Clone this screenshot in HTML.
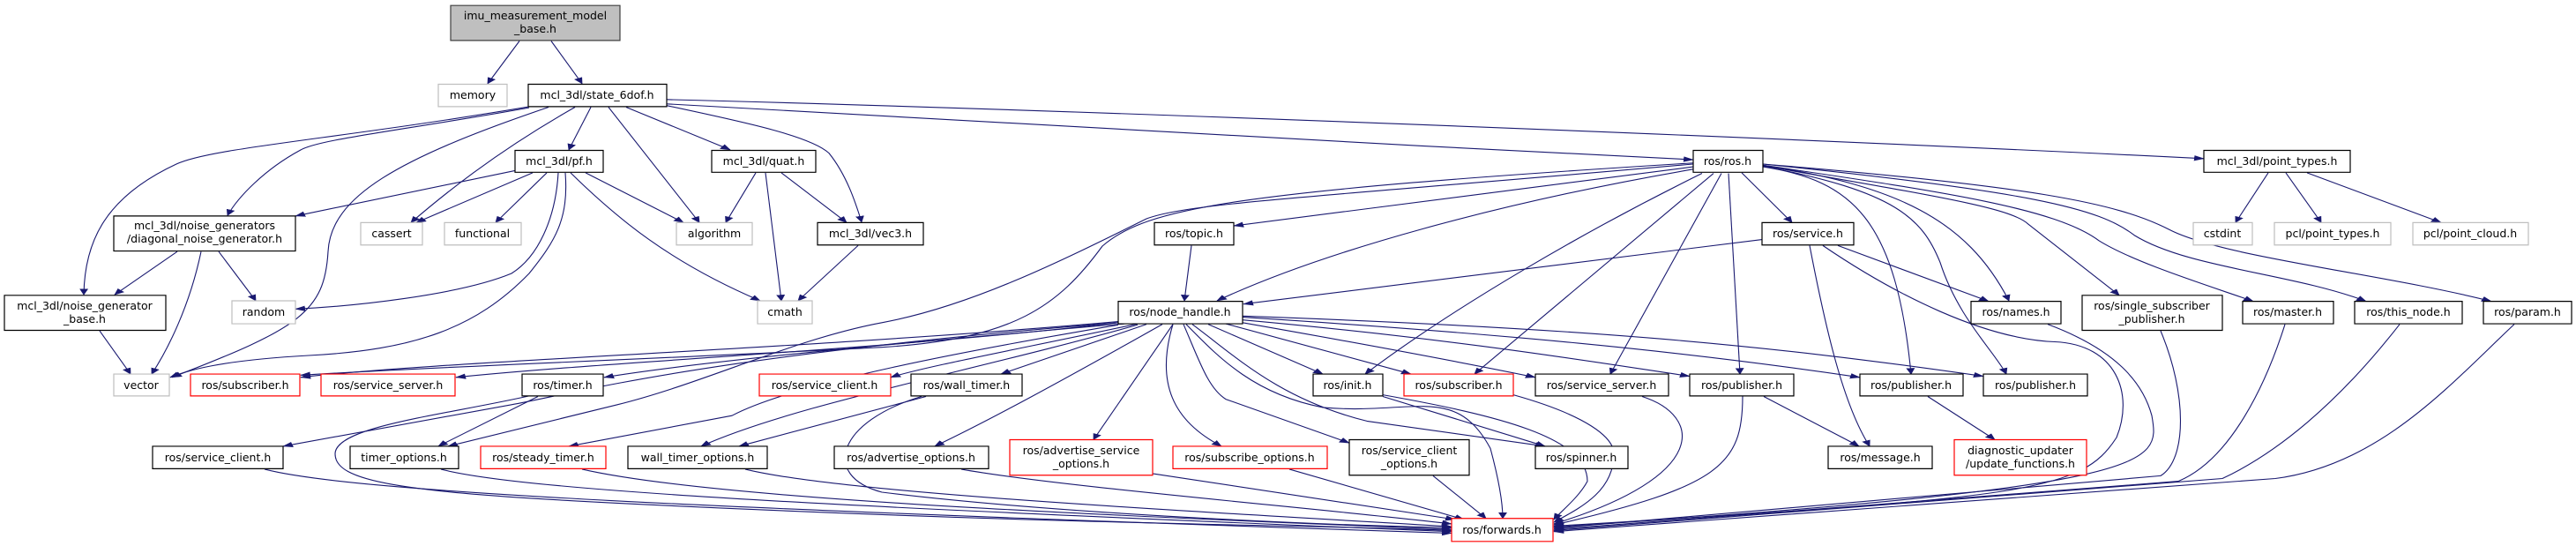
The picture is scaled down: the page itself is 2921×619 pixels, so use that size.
<!DOCTYPE html>
<html><head><meta charset="utf-8"><style>
html,body{margin:0;padding:0;background:#fff;overflow:hidden;}
svg{display:block;}
text{font-family:"DejaVu Sans","Liberation Sans",sans-serif;font-size:12.5px;fill:#000;text-anchor:middle;}
.e{fill:none;stroke:#191970;stroke-width:1.1;marker-end:url(#a);vector-effect:non-scaling-stroke;}
.n{fill:#fff;stroke:#000;stroke-width:1.2;vector-effect:non-scaling-stroke;}
.g{fill:#fff;stroke:#bfbfbf;stroke-width:1.2;vector-effect:non-scaling-stroke;}
.r{fill:#fff;stroke:#ff0000;stroke-width:1.2;vector-effect:non-scaling-stroke;}
</style></head><body>
<svg width="2921" height="619" viewBox="0 0 2921 619" xmlns="http://www.w3.org/2000/svg">
<defs><marker id="a" markerUnits="userSpaceOnUse" markerWidth="12" markerHeight="14" refX="11" refY="7" orient="auto"><path d="M0,2 L12,7 L0,12 z" fill="#191970"/></marker></defs>
<g transform="scale(1,0.62)">
<path class="e" d="M589,75 L553,153"/>
<path class="e" d="M625,75 L660,153"/>
<path class="e" d="M600,195 C380,255 240,270 200,300 C120,360 96,440 95,539"/>
<path class="e" d="M600,197 C450,240 360,255 340,275 C300,310 270,360 258,394"/>
<path class="e" d="M622,196 C450,290 375,360 372,460 C368,570 340,600 195,690"/>
<path class="e" d="M652,196 C560,280 500,360 466,407"/>
<path class="e" d="M670,196 L645,274"/>
<path class="e" d="M690,196 L793,407"/>
<path class="e" d="M710,196 L828,274"/>
<path class="e" d="M756,193 C850,225 920,250 940,280 C960,320 970,370 977,406"/>
<path class="e" d="M756,190 C1000,210 1500,260 1920,292"/>
<path class="e" d="M756,182 C1200,200 2000,250 2499,290"/>
<path class="e" d="M584,312 L335,395"/>
<path class="e" d="M604,316 L472,407"/>
<path class="e" d="M620,316 L562,407"/>
<path class="e" d="M664,316 L775,407"/>
<path class="e" d="M647,316 C700,400 760,480 862,550"/>
<path class="e" d="M633,316 C630,400 610,470 580,500 C520,540 400,560 335,565"/>
<path class="e" d="M641,316 C645,400 630,440 600,500 C540,600 470,640 350,650 C240,660 210,680 193,690"/>
<path class="e" d="M857,316 L823,407"/>
<path class="e" d="M868,316 L886,550"/>
<path class="e" d="M886,316 L960,407"/>
<path class="e" d="M973,449 L905,550"/>
<path class="e" d="M201,460 L130,539"/>
<path class="e" d="M248,460 L290,550"/>
<path class="e" d="M228,460 C215,560 190,640 172,684"/>
<path class="e" d="M113,605 L148,684"/>
<path class="e" d="M1920,305 L1399,413"/>
<path class="e" d="M1925,308 C1700,370 1500,460 1380,550"/>
<path class="e" d="M1975,316 L2032,407"/>
<path class="e" d="M1999,302 C2150,340 2230,400 2278,550"/>
<path class="e" d="M1999,303 C2200,360 2280,380 2300,410 L2403,540"/>
<path class="e" d="M1999,302 C2200,350 2330,380 2380,440 C2420,480 2500,520 2555,551"/>
<path class="e" d="M1999,300 C2300,350 2380,380 2420,430 C2480,490 2600,500 2683,551"/>
<path class="e" d="M1999,300 C2300,340 2400,370 2460,420 C2520,470 2700,500 2825,551"/>
<path class="e" d="M1930,317 C1800,420 1650,560 1548,684"/>
<path class="e" d="M1943,317 L1672,684"/>
<path class="e" d="M1952,317 L1826,684"/>
<path class="e" d="M1960,317 L1973,684"/>
<path class="e" d="M1999,305 C2100,330 2150,400 2167,684"/>
<path class="e" d="M1999,304 C2150,350 2180,400 2200,480 C2220,580 2260,640 2275,684"/>
<path class="e" d="M1920,298 C1400,350 1300,380 1250,450 C1200,560 1150,620 1000,635 C700,660 500,670 341,686"/>
<path class="e" d="M1920,300 C1500,360 1350,370 1300,400 C1200,480 1100,560 1000,590 C900,620 800,700 700,740 L508,816"/>
<path class="e" d="M1268,588 C900,640 500,660 341,690"/>
<path class="e" d="M1268,590 C1000,640 700,660 517,690"/>
<path class="e" d="M1275,592 C1000,630 800,660 685,690"/>
<path class="e" d="M1290,592 C1150,640 1050,670 1010,690"/>
<path class="e" d="M1300,593 L1135,684"/>
<path class="e" d="M1370,593 L1500,684"/>
<path class="e" d="M1390,592 L1600,684"/>
<path class="e" d="M1409,590 C1550,630 1650,660 1741,690"/>
<path class="e" d="M1409,585 C1650,620 1800,660 1916,688"/>
<path class="e" d="M1409,580 C1700,610 1900,640 2109,690"/>
<path class="e" d="M1409,578 C1800,600 2000,630 2249,688"/>
<path class="e" d="M1318,593 C1200,700 1120,770 1060,816"/>
<path class="e" d="M1330,593 L1240,804"/>
<path class="e" d="M1330,593 C1310,700 1330,770 1385,816"/>
<path class="e" d="M1342,593 C1360,660 1370,710 1390,730 L1530,810"/>
<path class="e" d="M1352,593 C1400,650 1450,730 1550,770 L1752,816"/>
<path class="e" d="M1345,593 C1380,650 1420,720 1500,745 C1600,760 1650,700 1690,820 C1700,880 1704,920 1704,948"/>
<path class="e" d="M1268,594 C1100,640 900,700 830,760 L645,816"/>
<path class="e" d="M1290,594 C1100,680 900,740 795,816"/>
<path class="e" d="M1268,590 C800,650 650,720 580,740 L321,816"/>
<path class="e" d="M610,725 L497,816"/>
<path class="e" d="M600,724 C500,760 380,780 380,830 C380,880 450,900 700,920 C1200,960 1500,960 1646,970"/>
<path class="e" d="M1050,725 L838,816"/>
<path class="e" d="M1045,725 C950,770 930,870 1000,900 C1200,940 1500,960 1646,965"/>
<path class="e" d="M300,858 C400,900 800,930 1646,975"/>
<path class="e" d="M500,858 C600,900 1000,930 1646,972"/>
<path class="e" d="M660,858 C800,910 1200,940 1646,968"/>
<path class="e" d="M845,858 C950,900 1300,930 1646,963"/>
<path class="e" d="M1090,858 C1200,890 1500,930 1646,958"/>
<path class="e" d="M1307,866 L1650,950"/>
<path class="e" d="M1462,858 L1660,950"/>
<path class="e" d="M1625,870 L1685,948"/>
<path class="e" d="M1568,722 C1700,760 1800,800 1800,880 C1790,910 1770,935 1762,950"/>
<path class="e" d="M1568,725 L1752,816"/>
<path class="e" d="M1716,722 C1800,760 1830,800 1830,830 C1830,900 1790,930 1762,955"/>
<path class="e" d="M1862,725 C1930,760 1940,870 1762,958"/>
<path class="e" d="M1976,725 C1976,850 1950,890 1762,960"/>
<path class="e" d="M2000,725 L2108,816"/>
<path class="e" d="M2186,725 L2262,804"/>
<path class="e" d="M2052,449 C2070,600 2090,740 2120,816"/>
<path class="e" d="M1998,438 L1410,556"/>
<path class="e" d="M2084,449 L2255,551"/>
<path class="e" d="M2067,449 C2150,540 2250,620 2330,625 C2400,630 2420,720 2400,800 C2360,900 2300,910 1762,962"/>
<path class="e" d="M2322,593 C2400,640 2430,700 2440,760 C2450,850 2450,890 1762,964"/>
<path class="e" d="M2450,605 C2480,720 2480,840 2450,870 L1762,966"/>
<path class="e" d="M2591,593 C2570,700 2530,840 2470,880 L1762,968"/>
<path class="e" d="M2721,593 C2650,740 2580,830 2520,875 L1762,970"/>
<path class="e" d="M2851,593 C2780,700 2700,850 2580,875 L1762,972"/>
<path class="e" d="M1351,449 L1343,550"/>
<path class="e" d="M2572,316 L2535,407"/>
<path class="e" d="M2592,316 L2632,407"/>
<path class="e" d="M2616,316 L2768,407"/>
<rect x="511" y="10" width="192" height="64" fill="#bfbfbf" stroke="#404040" stroke-width="1.2" vector-effect="non-scaling-stroke"/>
<rect class="g" x="497" y="154" width="78" height="41"/>
<rect class="n" x="599" y="154" width="157" height="41"/>
<rect class="n" x="584" y="275" width="100" height="40"/>
<rect class="n" x="807" y="275" width="118" height="40"/>
<rect class="n" x="1920" y="275" width="79" height="40"/>
<rect class="n" x="2499" y="275" width="166" height="40"/>
<rect class="n" x="129" y="395" width="206" height="64"/>
<rect class="g" x="409" y="407" width="70" height="41"/>
<rect class="g" x="504" y="407" width="87" height="41"/>
<rect class="g" x="767" y="407" width="86" height="41"/>
<rect class="n" x="927" y="407" width="120" height="41"/>
<rect class="n" x="1309" y="407" width="90" height="41"/>
<rect class="n" x="1998" y="407" width="104" height="41"/>
<rect class="g" x="2487" y="407" width="67" height="41"/>
<rect class="g" x="2579" y="407" width="132" height="41"/>
<rect class="g" x="2736" y="407" width="131" height="41"/>
<rect class="n" x="5" y="540" width="183" height="64"/>
<rect class="g" x="263" y="550" width="72" height="42"/>
<rect class="g" x="859" y="550" width="62" height="42"/>
<rect class="n" x="1268" y="551" width="141" height="41"/>
<rect class="n" x="2235" y="551" width="102" height="41"/>
<rect class="n" x="2361" y="540" width="159" height="64"/>
<rect class="n" x="2543" y="551" width="103" height="41"/>
<rect class="n" x="2670" y="551" width="122" height="41"/>
<rect class="n" x="2816" y="551" width="100" height="41"/>
<rect class="g" x="129" y="684" width="63" height="40"/>
<rect class="r" x="216" y="684" width="124" height="40"/>
<rect class="r" x="364" y="684" width="152" height="40"/>
<rect class="n" x="592" y="684" width="92" height="40"/>
<rect class="r" x="861" y="684" width="149" height="40"/>
<rect class="n" x="1033" y="684" width="126" height="40"/>
<rect class="n" x="1489" y="684" width="79" height="40"/>
<rect class="r" x="1592" y="684" width="124" height="40"/>
<rect class="n" x="1741" y="684" width="151" height="40"/>
<rect class="n" x="1916" y="684" width="118" height="40"/>
<rect class="n" x="2109" y="684" width="117" height="40"/>
<rect class="n" x="2249" y="684" width="118" height="40"/>
<rect class="n" x="173" y="816" width="148" height="41"/>
<rect class="n" x="397" y="816" width="123" height="41"/>
<rect class="r" x="545" y="816" width="142" height="41"/>
<rect class="n" x="712" y="816" width="158" height="41"/>
<rect class="n" x="946" y="816" width="175" height="41"/>
<rect class="r" x="1145" y="804" width="162" height="65"/>
<rect class="r" x="1330" y="816" width="175" height="41"/>
<rect class="n" x="1530" y="804" width="136" height="65"/>
<rect class="n" x="1741" y="816" width="105" height="41"/>
<rect class="n" x="2073" y="816" width="118" height="41"/>
<rect class="r" x="2216" y="804" width="150" height="65"/>
<rect class="r" x="1646" y="948" width="115" height="42"/>
</g>
<text x="607" y="22">imu_measurement_model</text><text x="607" y="37">_base.h</text>
<text x="536" y="112">memory</text>
<text x="677" y="112">mcl_3dl/state_6dof.h</text>
<text x="634" y="187">mcl_3dl/pf.h</text>
<text x="866" y="187">mcl_3dl/quat.h</text>
<text x="1959" y="187">ros/ros.h</text>
<text x="2582" y="187">mcl_3dl/point_types.h</text>
<text x="232" y="260">mcl_3dl/noise_generators</text><text x="232" y="275">/diagonal_noise_generator.h</text>
<text x="444" y="269">cassert</text>
<text x="547" y="269">functional</text>
<text x="810" y="269">algorithm</text>
<text x="987" y="269">mcl_3dl/vec3.h</text>
<text x="1354" y="269">ros/topic.h</text>
<text x="2050" y="269">ros/service.h</text>
<text x="2520" y="269">cstdint</text>
<text x="2645" y="269">pcl/point_types.h</text>
<text x="2801" y="269">pcl/point_cloud.h</text>
<text x="96" y="351">mcl_3dl/noise_generator</text><text x="96" y="366">_base.h</text>
<text x="299" y="358">random</text>
<text x="890" y="358">cmath</text>
<text x="1338" y="358">ros/node_handle.h</text>
<text x="2286" y="358">ros/names.h</text>
<text x="2440" y="351">ros/single_subscriber</text><text x="2440" y="366">_publisher.h</text>
<text x="2594" y="358">ros/master.h</text>
<text x="2731" y="358">ros/this_node.h</text>
<text x="2866" y="358">ros/param.h</text>
<text x="160" y="441">vector</text>
<text x="278" y="441">ros/subscriber.h</text>
<text x="440" y="441">ros/service_server.h</text>
<text x="638" y="441">ros/timer.h</text>
<text x="935" y="441">ros/service_client.h</text>
<text x="1096" y="441">ros/wall_timer.h</text>
<text x="1528" y="441">ros/init.h</text>
<text x="1654" y="441">ros/subscriber.h</text>
<text x="1816" y="441">ros/service_server.h</text>
<text x="1975" y="441">ros/publisher.h</text>
<text x="2167" y="441">ros/publisher.h</text>
<text x="2308" y="441">ros/publisher.h</text>
<text x="247" y="523">ros/service_client.h</text>
<text x="458" y="523">timer_options.h</text>
<text x="616" y="523">ros/steady_timer.h</text>
<text x="791" y="523">wall_timer_options.h</text>
<text x="1033" y="523">ros/advertise_options.h</text>
<text x="1226" y="515">ros/advertise_service</text><text x="1226" y="530">_options.h</text>
<text x="1417" y="523">ros/subscribe_options.h</text>
<text x="1598" y="515">ros/service_client</text><text x="1598" y="530">_options.h</text>
<text x="1793" y="523">ros/spinner.h</text>
<text x="2132" y="523">ros/message.h</text>
<text x="2291" y="515">diagnostic_updater</text><text x="2291" y="530">/update_functions.h</text>
<text x="1703" y="605">ros/forwards.h</text>
</svg>
</body></html>
